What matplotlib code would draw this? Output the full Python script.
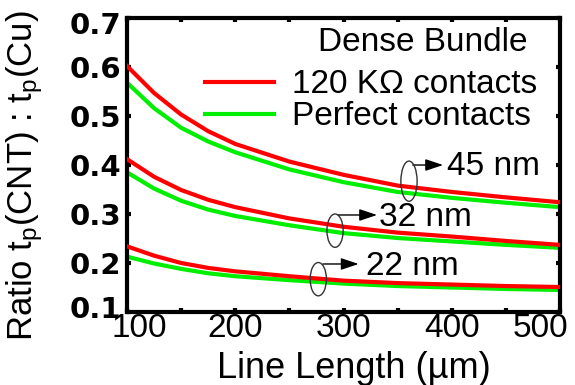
import numpy as np
import matplotlib
matplotlib.use("Agg")
import matplotlib.pyplot as plt
from matplotlib.patches import Ellipse
from matplotlib.transforms import ScaledTranslation

plt.rcParams["font.family"] = ["Liberation Sans", "DejaVu Sans"]
plt.rcParams["mathtext.fontset"] = "custom"
plt.rcParams["mathtext.rm"] = "Liberation Sans"
plt.rcParams["mathtext.it"] = "Liberation Sans"

# line length (um)
length = [100, 125, 150, 175, 200, 250, 300, 350, 400, 450, 500]

# ratio tp(CNT):tp(Cu), 120 kOhm contacts (red) / perfect contacts (green)
red_45 = [0.602, 0.547, 0.503, 0.469, 0.443, 0.407, 0.380, 0.358, 0.345, 0.334, 0.324]
green_45 = [0.568, 0.516, 0.476, 0.448, 0.426, 0.391, 0.365, 0.345, 0.333, 0.323, 0.314]
red_32 = [0.412, 0.376, 0.349, 0.329, 0.314, 0.291, 0.274, 0.262, 0.254, 0.245, 0.237]
green_32 = [0.385, 0.352, 0.327, 0.309, 0.296, 0.277, 0.261, 0.251, 0.244, 0.237, 0.231]
red_22 = [0.234, 0.215, 0.200, 0.190, 0.183, 0.173, 0.164, 0.159, 0.156, 0.153, 0.151]
green_22 = [0.213, 0.199, 0.188, 0.179, 0.173, 0.165, 0.158, 0.153, 0.150, 0.147, 0.145]

xticks = [100, 150, 200, 250, 300, 350, 400, 450, 500]
xtick_labels = ["100", "", "200", "", "300", "", "400", "", "500"]
yticks = [0.1, 0.2, 0.3, 0.4, 0.5, 0.6, 0.7]
ytick_labels = ["0.1", "0.2", "0.3", "0.4", "0.5", "0.6", "0.7"]

# node labels with ellipse marks
nodes = ["45 nm", "32 nm", "22 nm"]
ring_x = [360.5, 292.2, 276.7]
ring_y = [0.367, 0.266, 0.167]
ring_h = [0.082, 0.068, 0.068]
arrow_from = [364, 295, 281]
arrow_to = [392, 331, 314]
arrow_y = [0.400, 0.298, 0.198]
label_x = [395.6, 333, 321]
label_y = [0.396, 0.293, 0.192]

RED = "#ff0000"
GREEN = "#00ee00"

fig = plt.figure(figsize=(5.75, 3.85), dpi=100)
ax = fig.add_axes([0.2209, 0.1896, 0.753, 0.7636])

pairs = [(red_45, green_45), (red_32, green_32), (red_22, green_22)]
for i, (r, g) in enumerate(pairs):
    ax.plot(length, g, color=GREEN, lw=3, label="Perfect contacts" if i == 0 else None, zorder=2)
    ax.plot(length, r, color=RED, lw=3, label="120 K\u03a9 contacts" if i == 0 else None, zorder=3)

ax.set_xlim(100, 500)
ax.set_ylim(0.1, 0.7)
ax.set_xticks(xticks)
ax.set_xticklabels(xtick_labels, fontsize=24)
ax.set_yticks(yticks)
ax.set_yticklabels(ytick_labels, fontsize=21, fontweight="bold", family="DejaVu Sans")
ax.tick_params(direction="in", length=3, width=3, top=True, right=True)
ax.tick_params(axis="x", pad=1)
ax.tick_params(axis="y", pad=4)
for s in ax.spines.values():
    s.set_linewidth(3)

# nudge the end tick labels inwards like the original
labs = ax.get_xticklabels()
labs[0].set_transform(labs[0].get_transform() + ScaledTranslation(0.12, 0, fig.dpi_scale_trans))
labs[-1].set_transform(labs[-1].get_transform() + ScaledTranslation(-0.20, 0, fig.dpi_scale_trans))
ylabs = ax.get_yticklabels()
ylabs[0].set_transform(ylabs[0].get_transform() + ScaledTranslation(0, 0.05, fig.dpi_scale_trans))
ylabs[-1].set_transform(ylabs[-1].get_transform() + ScaledTranslation(0, -0.05, fig.dpi_scale_trans))

handles, labels = ax.get_legend_handles_labels()
ax.legend(handles[::-1], labels[::-1], loc="upper left", bbox_to_anchor=(0.18, 0.826),
          frameon=False, fontsize=24, handlelength=2.06, handletextpad=0.55,
          labelspacing=0.03, borderpad=0, borderaxespad=0)
ax.text(0.6836, 0.918, "Dense Bundle", transform=ax.transAxes, ha="center", va="center", fontsize=24)

for i in range(len(nodes)):
    ax.add_patch(Ellipse((ring_x[i], ring_y[i]), 15, ring_h[i], fill=False, ec="#333333", lw=1, zorder=4))
    ax.annotate("", xy=(arrow_to[i], arrow_y[i]), xytext=(arrow_from[i], arrow_y[i]),
                arrowprops=dict(arrowstyle="-|>,head_length=0.6,head_width=0.2", color="black",
                                lw=1, mutation_scale=18, shrinkA=0, shrinkB=0))
    ax.text(label_x[i], label_y[i], nodes[i], ha="left", va="center", fontsize=24)

fig.text(354 / 575, 1 - 368 / 385, "Line Length (\u00b5m)", ha="center", va="center", fontsize=26)
fig.text(25 / 575, 1 - 176 / 385, r"Ratio t$_\mathrm{p}$(CNT) : t$_\mathrm{p}$(Cu)",
         ha="center", va="center", rotation=90, fontsize=25)

fig.savefig("out.png", dpi=100)
